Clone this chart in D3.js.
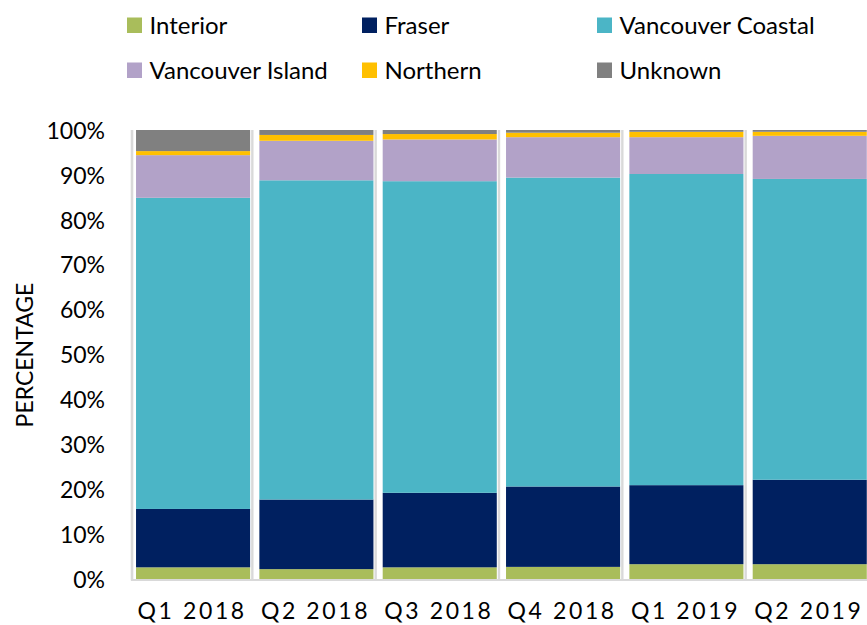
<!DOCTYPE html>
<html>
<head>
<meta charset="utf-8">
<script src="https://cdn.jsdelivr.net/npm/d3@7"></script>
<style>
  html, body { margin: 0; padding: 0; background: #fff; }
  svg { display: block; }
  text { font-family: Lato, "Open Sans", sans-serif; fill: #000; }
</style>
</head>
<body>
<svg id="chart" width="867" height="625"></svg>
<script>
// ---- data ----
const categories = ["Q1 2018", "Q2 2018", "Q3 2018", "Q4 2018", "Q1 2019", "Q2 2019"];
const seriesNames = ["Interior", "Fraser", "Vancouver Coastal", "Vancouver Island", "Northern", "Unknown"];
const interior        = [2.6, 2.2, 2.6, 2.7, 3.3, 3.3];
const fraser          = [13.0, 15.5, 16.6, 17.9, 17.6, 18.8];
const vancouverCoastal= [69.3, 71.1, 69.4, 68.8, 69.3, 67.0];
const vancouverIsland = [9.5, 8.8, 9.3, 9.0, 8.2, 9.6];
const northern        = [0.9, 1.3, 1.2, 1.0, 1.2, 0.9];
const unknown         = [4.7, 1.1, 0.9, 0.6, 0.4, 0.4];
const yTicks = [0, 10, 20, 30, 40, 50, 60, 70, 80, 90, 100];
const colors = ["#A9BD5B", "#002060", "#4BB5C6", "#B2A2C8", "#FFC000", "#808080"];

const seriesValues = [interior, fraser, vancouverCoastal, vancouverIsland, northern, unknown];
const rows = categories.map((c, i) => {
  const r = { cat: c };
  seriesNames.forEach((s, j) => r[s] = seriesValues[j][i]);
  return r;
});

const svg = d3.select("#chart");
const plotTop = 130, plotBottom = 579;

const x = d3.scaleBand().domain(categories).range([129, 869]).paddingInner(0).paddingOuter(0);
const y = d3.scaleLinear().domain([0, 100]).range([plotBottom, plotTop]);
const color = d3.scaleOrdinal().domain(seriesNames).range(colors);

const stack = d3.stack().keys(seriesNames);
const stacked = stack(rows);

const barOffset = x.step() * 0.057;
const barWidth = x.step() * 0.925;

// separators between categories
svg.append("g").selectAll("line")
  .data(categories.slice(1))
  .join("line")
  .attr("x1", d => x(d)).attr("x2", d => x(d))
  .attr("y1", plotTop).attr("y2", plotBottom + 1)
  .attr("stroke", "#d9d9d9").attr("stroke-width", 2.4);

// bars
svg.append("g").selectAll("g")
  .data(stacked)
  .join("g")
  .attr("fill", d => color(d.key))
  .selectAll("rect")
  .data(d => d)
  .join("rect")
  .attr("x", d => x(d.data.cat) + barOffset)
  .attr("width", barWidth)
  .attr("y", d => y(d[1]))
  .attr("height", d => y(d[0]) - y(d[1]));

// y axis line
svg.append("line")
  .attr("x1", 132).attr("x2", 132)
  .attr("y1", plotTop).attr("y2", plotBottom + 1.5)
  .attr("stroke", "#d9d9d9").attr("stroke-width", 2.6);
// x axis line
svg.append("line")
  .attr("x1", 131).attr("x2", 867)
  .attr("y1", plotBottom + 1).attr("y2", plotBottom + 1)
  .attr("stroke", "#d9d9d9").attr("stroke-width", 1.8);

// y tick labels
const yAxis = d3.axisLeft(y).tickValues(yTicks).tickFormat(d => d + "%").tickSize(0).tickPadding(0);
const gy = svg.append("g").attr("transform", "translate(105,0)").call(yAxis);
gy.select(".domain").remove();
gy.selectAll("text").attr("font-size", 23).attr("font-family", "Lato").attr("fill", "#000").attr("dy", "0.36em");

// x tick labels
const xAxis = d3.axisBottom(x).tickSize(0).tickPadding(0);
const gx = svg.append("g").attr("transform", "translate(" + (barOffset/2 - 2) + ",603)").call(xAxis);
gx.select(".domain").remove();
gx.selectAll("text").attr("font-size", 23).attr("font-family", "Lato").attr("fill", "#000")
  .attr("letter-spacing", "2.6px").attr("dy", "0.71em");

// y title
svg.append("text")
  .attr("transform", "translate(33,355) rotate(-90)")
  .attr("text-anchor", "middle")
  .attr("font-size", 23)
  .text("PERCENTAGE");

// legend
const legCols = [127, 362, 597];
const legRows = [17.5, 62.5];
const legend = svg.append("g").selectAll("g")
  .data(seriesNames)
  .join("g")
  .attr("transform", (d, i) => `translate(${legCols[i % 3]},${legRows[Math.floor(i / 3)]})`);
legend.append("rect").attr("width", 15).attr("height", 15.5).attr("fill", d => color(d));
legend.append("text").attr("x", 22.5).attr("y", 16).attr("font-size", 24).text(d => d);
</script>
</body>
</html>
